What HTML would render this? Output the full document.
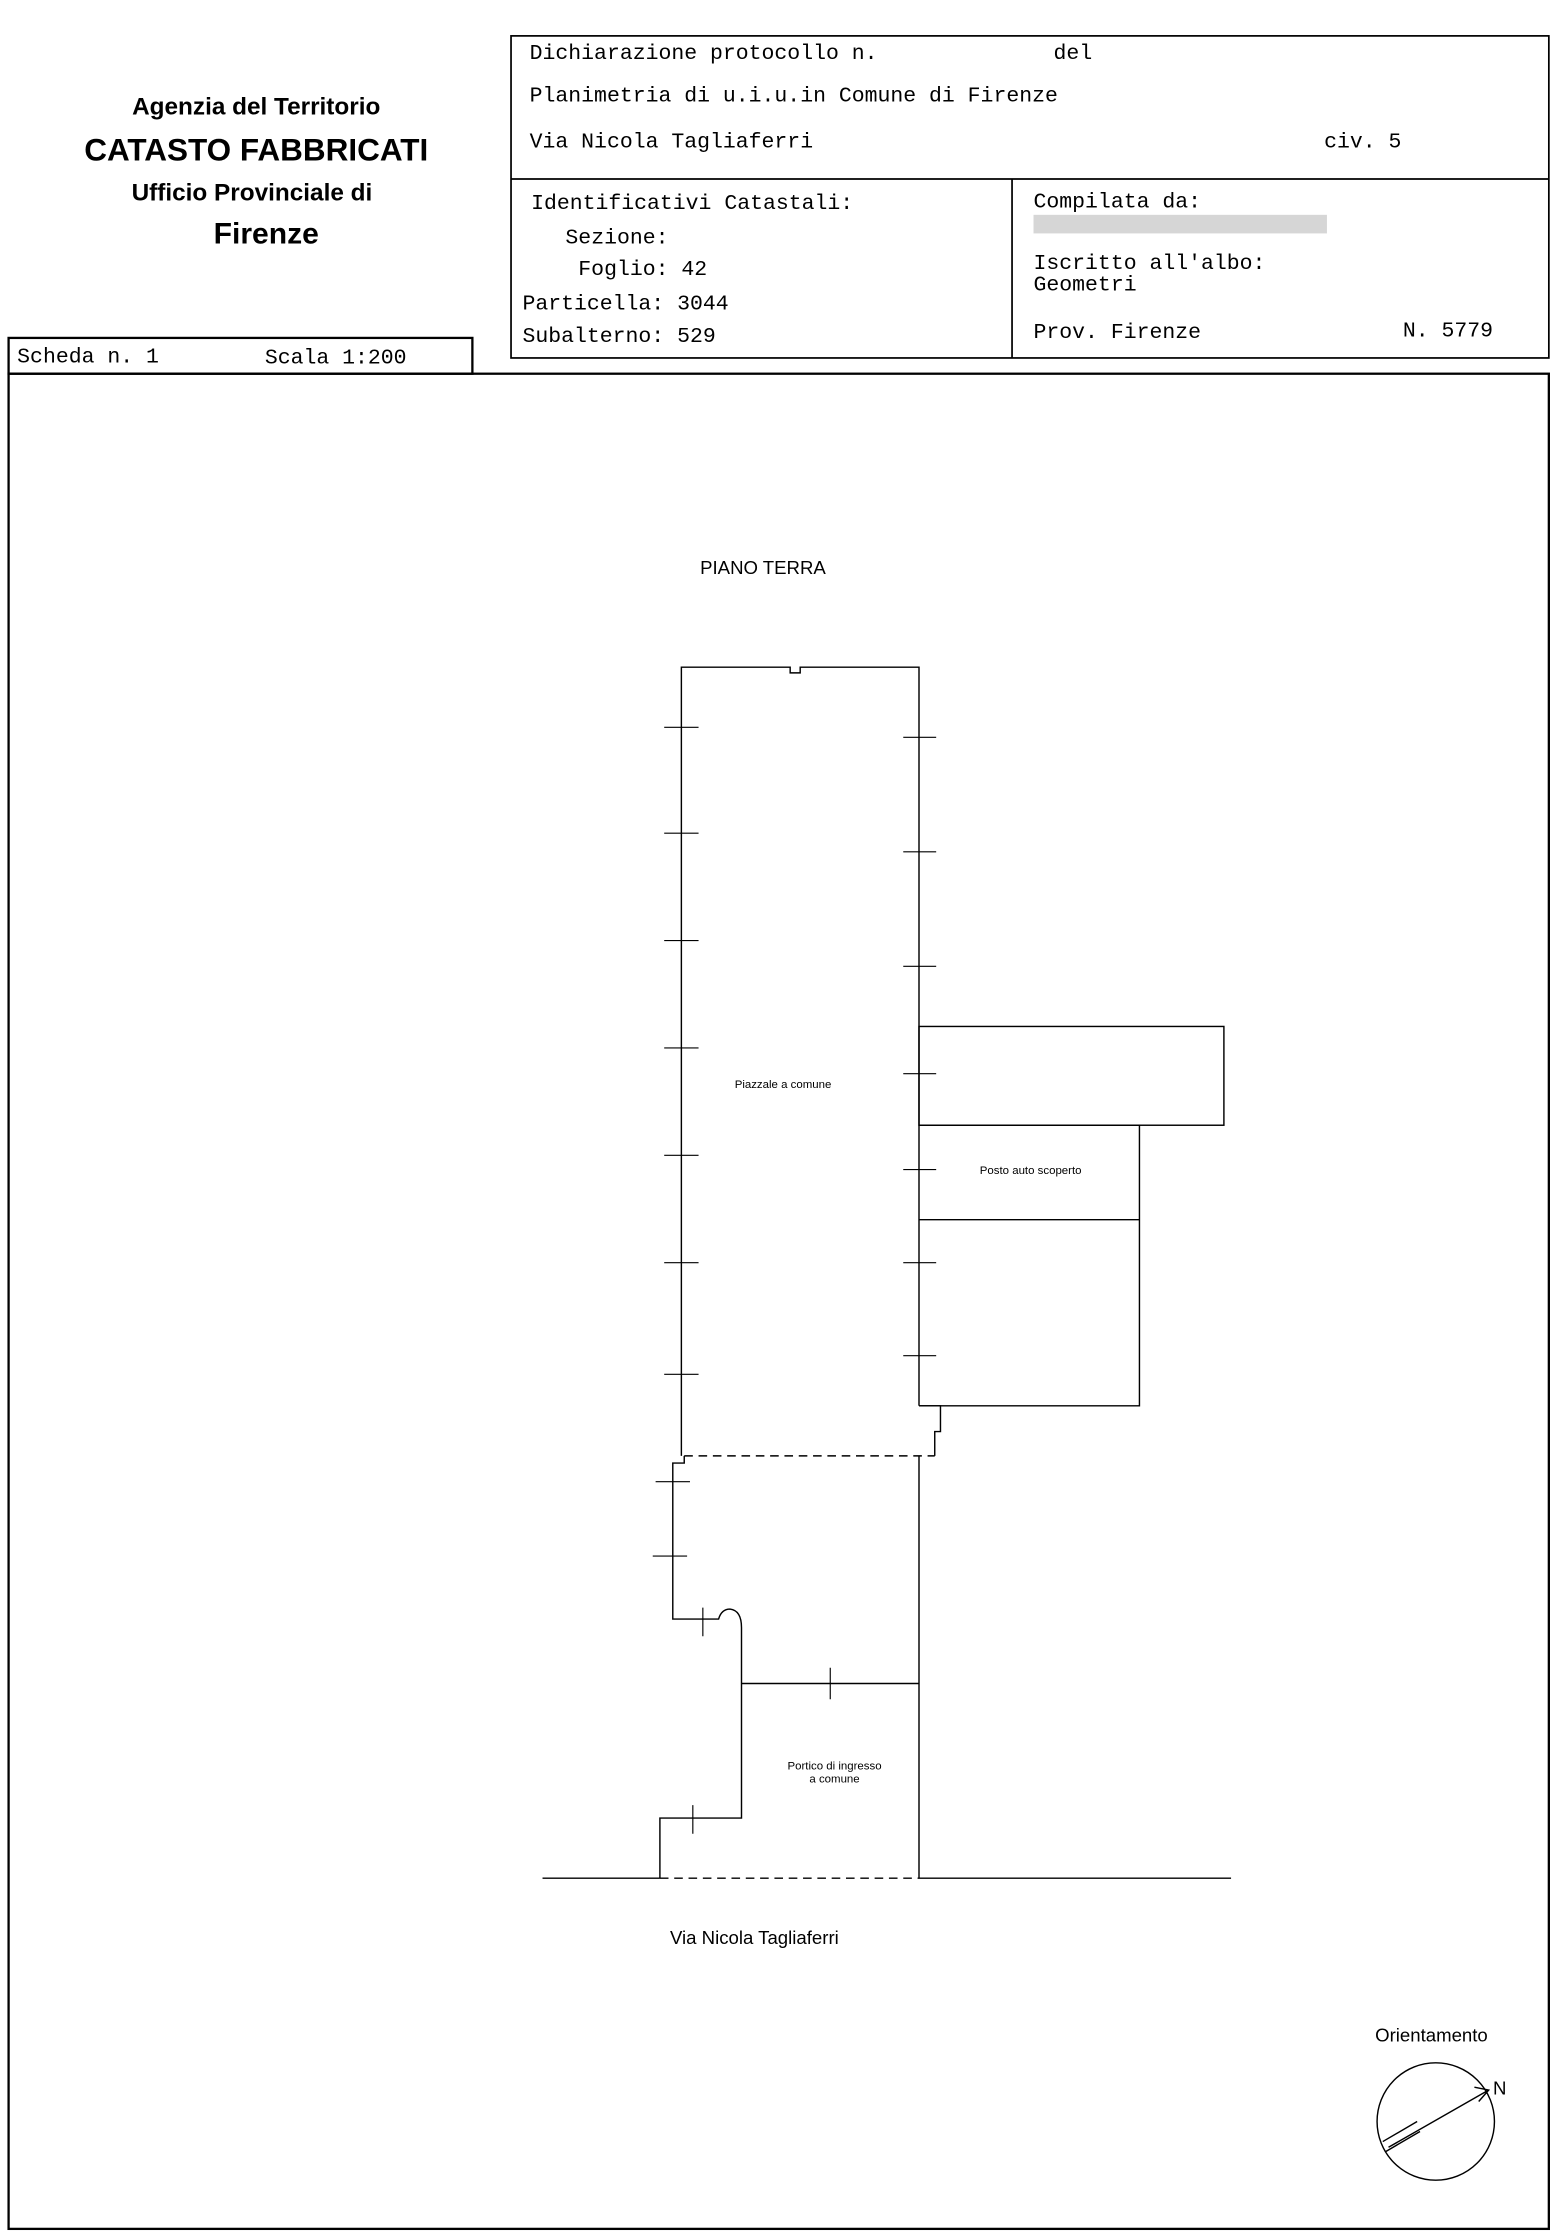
<!DOCTYPE html>
<html><head><meta charset="utf-8"><style>
html,body{margin:0;padding:0;background:#fff}
svg{display:block}
.m{font-family:"Liberation Mono",monospace;font-size:15px;fill:#000}
.s{font-family:"Liberation Sans",sans-serif;fill:#000}
</style></head><body>
<svg width="1556" height="2239" viewBox="0 0 1087 1564" xmlns="http://www.w3.org/2000/svg">
<g fill="none" stroke="#000" stroke-width="1.2">
<rect x="357" y="25" width="725" height="225"/>
<line x1="357" y1="125" x2="1082" y2="125"/>
<line x1="707" y1="125" x2="707" y2="250"/>
<rect x="6" y="236" width="324" height="25" stroke-width="1.6"/>
<rect x="6" y="261" width="1076" height="1296" stroke-width="1.6"/>
</g>
<text class="s" x="179" y="80" font-size="17" text-anchor="middle" font-weight="bold">Agenzia del Territorio</text>
<text class="s" x="179" y="112" font-size="22" text-anchor="middle" font-weight="bold">CATASTO FABBRICATI</text>
<text class="s" x="176" y="140" font-size="17" text-anchor="middle" font-weight="bold">Ufficio Provinciale di</text>
<text class="s" x="186" y="170" font-size="21" text-anchor="middle" font-weight="bold">Firenze</text>
<text class="m" x="370" y="41">Dichiarazione protocollo n.</text>
<text class="m" x="736" y="41">del</text>
<text class="m" x="370" y="71">Planimetria di u.i.u.in Comune di Firenze</text>
<text class="m" x="370" y="103">Via Nicola Tagliaferri</text>
<text class="m" x="925" y="103">civ. 5</text>
<text class="m" x="371" y="146">Identificativi Catastali:</text>
<text class="m" x="395" y="170">Sezione:</text>
<text class="m" x="404" y="192">Foglio: 42</text>
<text class="m" x="365" y="216">Particella: 3044</text>
<text class="m" x="365" y="239">Subalterno: 529</text>
<text class="m" x="722" y="145">Compilata da:</text>
<rect x="722" y="150" width="205" height="13" fill="#bbb" opacity="0.6"/>
<text class="m" x="722" y="188">Iscritto all'albo:</text>
<text class="m" x="722" y="203">Geometri</text>
<text class="m" x="722" y="236">Prov. Firenze</text>
<text class="m" x="980" y="235">N. 5779</text>
<text class="m" x="12" y="253">Scheda n. 1</text>
<text class="m" x="185" y="254">Scala 1:200</text>
<text class="s" x="533" y="401" font-size="13" text-anchor="middle">PIANO TERRA</text>
<g fill="none" stroke="#000" stroke-width="1">
<path d="M476 1017 V466 H552 V470 H559 V466 H642 V982"/>
<path d="M642 982 H657 V1000 H653 V1017"/>
<rect x="642" y="717" width="213" height="69"/>
<path d="M642 786 H796 V982 H642"/>
<line x1="642" y1="852" x2="796" y2="852"/>
<line x1="478" y1="1017" x2="653" y2="1017" stroke-dasharray="6,4"/>
<path d="M478 1017 V1022 H470 V1131 H502 Q504 1124 510 1124 Q518 1125 518 1137 V1270 H461 V1312"/>
<line x1="642" y1="1017" x2="642" y2="1312"/>
<line x1="518" y1="1176" x2="642" y2="1176"/>
<line x1="379" y1="1312" x2="461" y2="1312"/>
<line x1="642" y1="1312" x2="860" y2="1312"/>
<line x1="461" y1="1312" x2="642" y2="1312" stroke-dasharray="6,4"/>
<g stroke-width="0.8">
<path d="M464 508H488M464 582H488M464 657H488M464 732H488M464 807H488M464 882H488M464 960H488"/>
<path d="M631 515H654M631 595H654M631 675H654M631 750H654M631 817H654M631 882H654M631 947H654"/>
<path d="M458 1035H482M456 1087H480M491 1123V1143M580 1165V1187M484 1261V1281"/>
</g>
<circle cx="1003" cy="1482" r="41"/>
<path d="M970 1500 L1040 1460 M1030 1458 L1040 1460 L1033 1468 M966 1496 L990 1482 M968 1503 L992 1489"/>
</g>
<text class="s" x="547" y="760" font-size="8" text-anchor="middle">Piazzale a comune</text>
<text class="s" x="720" y="820" font-size="8" text-anchor="middle">Posto auto scoperto</text>
<text class="s" x="583" y="1236" font-size="8" text-anchor="middle">Portico di ingresso</text>
<text class="s" x="583" y="1245" font-size="8" text-anchor="middle">a comune</text>
<text class="s" x="527" y="1358" font-size="13" text-anchor="middle">Via Nicola Tagliaferri</text>
<text class="s" x="1000" y="1426" font-size="13" text-anchor="middle">Orientamento</text>
<text class="s" x="1043" y="1463" font-size="13">N</text>
</svg>
</body></html>
